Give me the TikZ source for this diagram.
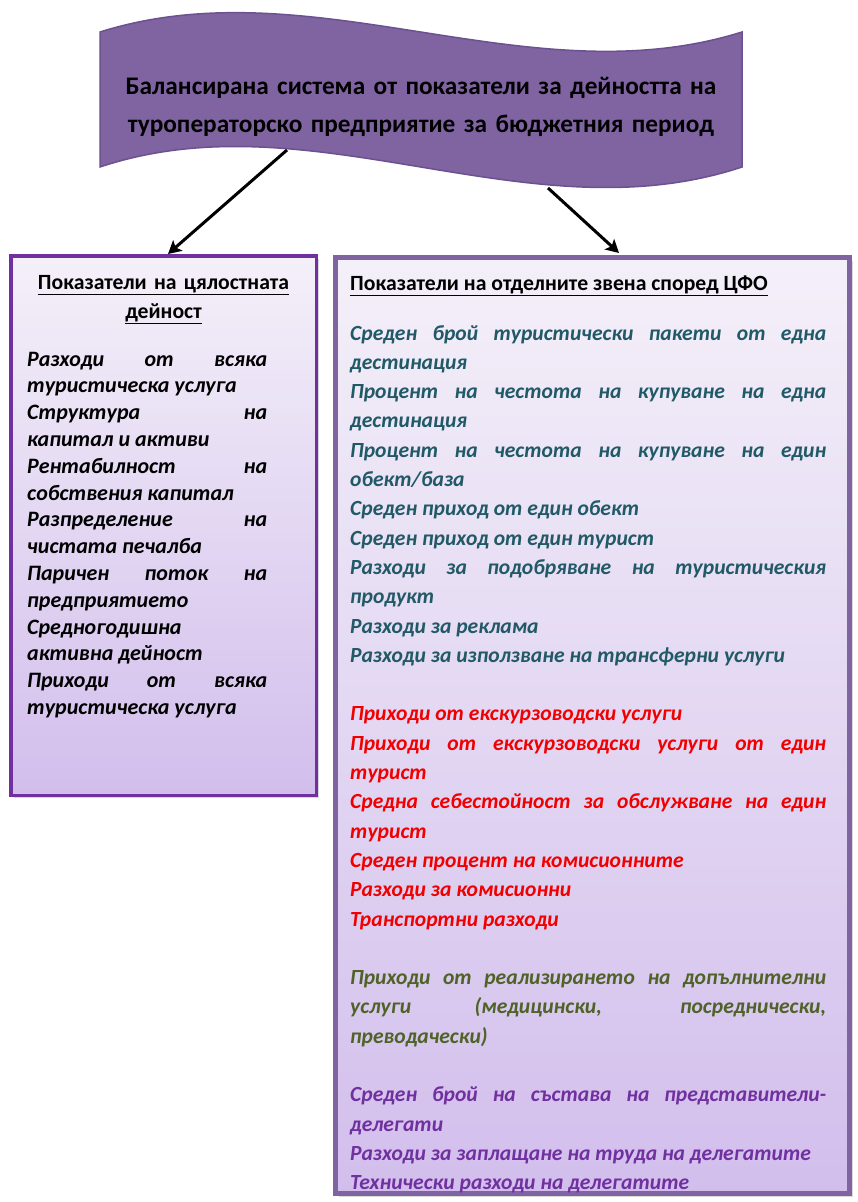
\documentclass[tikz,border=0pt]{standalone}
\usepackage{fontspec}
\setmainfont{Carlito}
\usepackage{xcolor}
\usetikzlibrary{shadows,arrows.meta}

\definecolor{bannerfill}{HTML}{8064A2}
\definecolor{bannerline}{HTML}{6B5190}
\definecolor{lpanelline}{HTML}{7030A0}
\definecolor{rpanelline}{HTML}{8064A2}
\definecolor{paneltop}{HTML}{F4F0F9}
\definecolor{panelbot}{HTML}{D2BEEC}
\definecolor{tealtext}{HTML}{215967}
\definecolor{redtext}{HTML}{F00000}
\definecolor{olivetext}{HTML}{4F6228}
\definecolor{violettext}{HTML}{7030A0}

\tikzset{
  panel/.style={draw, top color=paneltop, bottom color=panelbot,
    drop shadow={shadow xshift=3pt, shadow yshift=-3pt, opacity=.3}},
  titletext/.style={font=\fontsize{25.3}{38}\selectfont\bfseries,
    text width=660, align=center, inner sep=0pt, anchor=base},
  headtext/.style={font=\fontsize{21.7}{29}\selectfont\bfseries, inner sep=0pt, anchor=base},
  itemtext/.style={align=justify, inner sep=0pt, anchor=base west},
  link/.style={-{Stealth[length=13pt,width=14pt,inset=3pt]}, line width=3pt},
}
\newcommand\gapline{\par\vskip 29.3pt}

\begin{document}
\begin{tikzpicture}[x=1pt, y=-1pt, >=stealth]
\useasboundingbox (0,0) rectangle (858,1202);
\hyphenpenalty=10000

%--- Banner ---
\draw[bannerline, fill=bannerfill, line width=1.5pt]
  (100,32) .. controls (313,-35) and (528,99) .. (742,32)
  -- (742,167) .. controls (528,238) and (313,96) .. (100,167) -- cycle;
\node[titletext] (title) at (421,94.5)
  {Балансирана система от показатели за дейността на\\
   туроператорско предприятие за бюджетния период};

%--- Panels ---
\node[panel, draw=lpanelline, line width=3.5pt, minimum width=305.5, minimum height=539.5] (lbox) at (163.5,525.5) {};
\node[panel, draw=rpanelline, line width=5pt, minimum width=514, minimum height=936] (rbox) at (592.5,725.5) {};

% Arrows
\coordinate (ltail) at (287,150);
\coordinate (ltip) at (168,254);
\coordinate (rtail) at (548,188);
\coordinate (rtip) at (619,253);
\draw[link] (ltail) -- (ltip);
\draw[link] (rtail) -- (rtip);

%--- Left panel text ---
\node[headtext, text width=290, align=center] (lhead) at (163.5,289)
  {\underline{Показатели на цялостната}\\ \underline{дейност}};
\node[itemtext, text width=240, font=\fontsize{22}{26.8}\selectfont\bfseries\itshape] (litems) at (27,366)
  {Разходи от всяка\linebreak туристическа услуга\par
   Структура на\linebreak капитал и активи\par
   Рентабилност на\linebreak собствения капитал\par
   Разпределение на\linebreak чистата печалба\par
   Паричен поток на\linebreak предприятието\par
   Средногодишна\newline активна дейност\par
   Приходи от всяка\linebreak туристическа услуга};

%--- Right panel text ---
\node[headtext, anchor=base west] (rhead) at (350,290)
  {\underline{Показатели на отделните звена според ЦФО}};
\node[itemtext, text width=476, font=\fontsize{21.6}{29.3}\selectfont\bfseries\itshape] (ritems) at (350,340)
  {\color{tealtext}%
   Среден брой туристически пакети от една\linebreak дестинация\par
   Процент на честота на купуване на една\linebreak дестинация\par
   Процент на честота на купуване на един\linebreak обект/база\par
   Среден приход от един обект\par
   Среден приход от един турист\par
   Разходи за подобряване на туристическия\linebreak продукт\par
   Разходи за реклама\par
   Разходи за използване на трансферни услуги\gapline
   \color{redtext}%
   Приходи от екскурзоводски услуги\par
   Приходи от екскурзоводски услуги от един\linebreak турист\par
   Средна себестойност за обслужване на един\linebreak турист\par
   Среден процент на комисионните\par
   Разходи за комисионни\par
   Транспортни разходи\gapline
   \color{olivetext}%
   Приходи от реализирането на допълнителни\linebreak
   услуги (медицински, посреднически,\linebreak преводачески)\gapline
   \color{violettext}%
   Среден брой на състава на представители-\linebreak делегати\par
   Разходи за заплащане на труда на делегатите\par
   Технически разходи на делегатите};
\end{tikzpicture}
\end{document}
